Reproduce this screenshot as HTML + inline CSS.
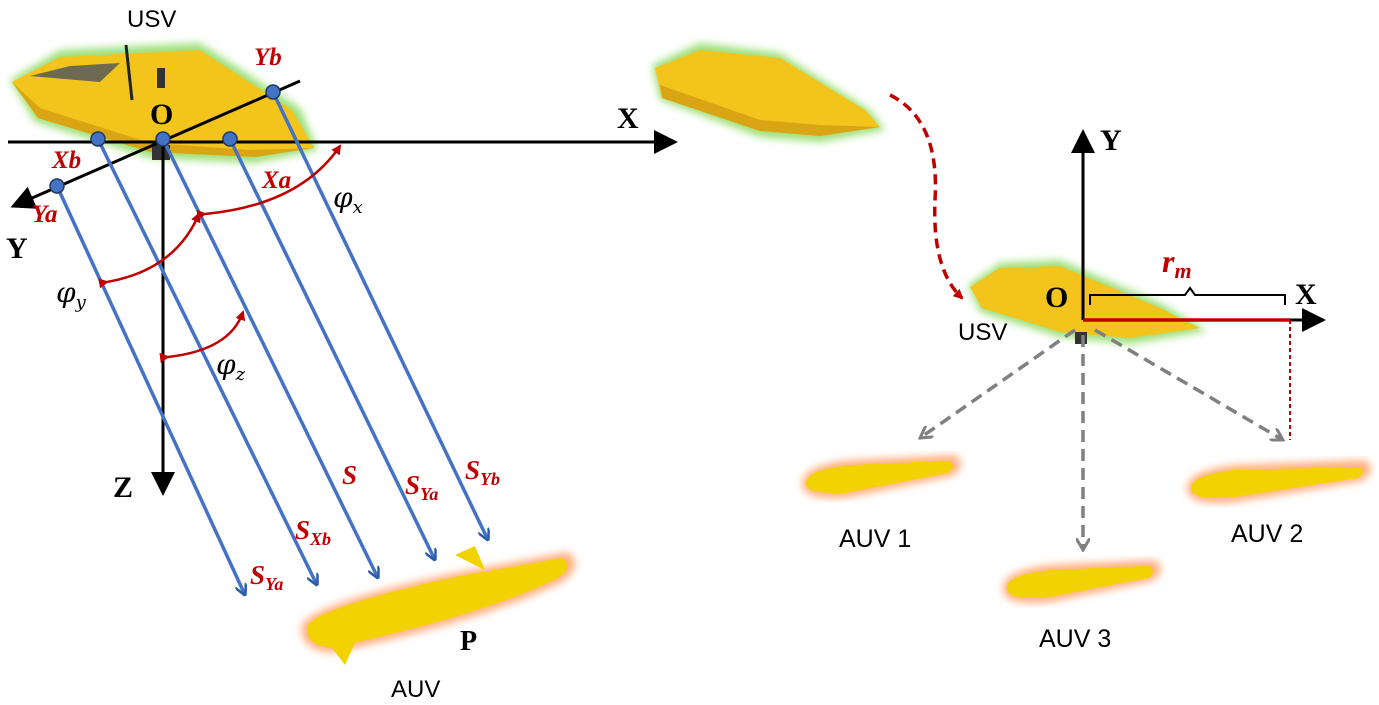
<!DOCTYPE html>
<html><head><meta charset="utf-8"><style>
body{margin:0;background:#fff}
svg{display:block}
.lbl{font-family:"Liberation Serif",serif;font-weight:bold;font-style:italic;fill:#c00000}
.ax{font-family:"Liberation Serif",serif;font-weight:bold;fill:#000}
.sans{font-family:"Liberation Sans",sans-serif;fill:#000}
</style></head><body>
<svg width="1379" height="705" viewBox="0 0 1379 705">
<defs>
<marker id="ab" markerWidth="8" markerHeight="8" refX="6" refY="4" orient="auto" markerUnits="strokeWidth"><path d="M0,0 L8,4 L0,8 Z" fill="#000"/></marker>
<marker id="abl" markerWidth="12" markerHeight="12" refX="11" refY="6" orient="auto" markerUnits="userSpaceOnUse"><path d="M0,0 L12,6 L0,12" fill="none" stroke="#2a5caa" stroke-width="2.5"/></marker>
<marker id="ar" markerWidth="10" markerHeight="10" refX="8" refY="5" orient="auto" markerUnits="userSpaceOnUse"><path d="M0,0 L10,5 L0,10 Z" fill="#c00000"/></marker>
<marker id="ag" markerWidth="14" markerHeight="14" refX="12" refY="7" orient="auto" markerUnits="userSpaceOnUse"><path d="M0,0 L12,7 L0,14" fill="none" stroke="#808080" stroke-width="3"/></marker>
<filter id="gg"><feGaussianBlur stdDeviation="4"/></filter>
</defs>

<!-- left USV -->
<g>
<path d="M10,80 L60,50 L200,43 L300,108 L318,150 L255,163 L150,158 L35,122 Z" fill="#9fe07a" filter="url(#gg)"/>
<path d="M12,82 L60,57 L200,50 L292,110 L314,148 L255,157 L150,152 L38,118 Z" fill="#f2c41c"/>
<path d="M12,82 L38,118 L150,152 L255,157 L314,148 L250,150 L150,143 L40,108 Z" fill="#d9a514"/>
<path d="M30,76 L70,66 L120,63 L100,82 Z" fill="#6d6a50"/>
<line x1="126" y1="45" x2="132" y2="100" stroke="#222" stroke-width="3"/>
<rect x="157" y="68" width="8" height="20" fill="#333"/>
<rect x="152" y="145" width="18" height="15" fill="#333"/>
</g>
<text x="127" y="27" class="sans" font-size="24">USV</text>

<!-- axes -->
<line x1="8" y1="142" x2="672" y2="142" stroke="#000" stroke-width="3" marker-end="url(#ab)"/>
<line x1="163" y1="142" x2="163" y2="490" stroke="#000" stroke-width="3" marker-end="url(#ab)"/>
<line x1="300" y1="81" x2="16" y2="205" stroke="#000" stroke-width="3" marker-end="url(#ab)"/>
<text x="617" y="128" class="ax" font-size="30">X</text>
<text x="6" y="258" class="ax" font-size="30">Y</text>
<text x="113" y="497" class="ax" font-size="30">Z</text>
<text x="150" y="124" class="ax" font-size="30">O</text>

<!-- blue rays -->
<g stroke="#4472c4" stroke-width="3.5">
<line x1="57" y1="186" x2="245" y2="595" marker-end="url(#abl)"/>
<line x1="98" y1="139" x2="317" y2="585" marker-end="url(#abl)"/>
<line x1="163" y1="139" x2="378" y2="578" marker-end="url(#abl)"/>
<line x1="230" y1="139" x2="435" y2="560" marker-end="url(#abl)"/>
<line x1="273" y1="92" x2="488" y2="540" marker-end="url(#abl)"/>
</g>
<g fill="#4472c4" stroke="#1f3864" stroke-width="1.5">
<circle cx="57" cy="186" r="7"/><circle cx="98" cy="139" r="7"/><circle cx="163" cy="139" r="7"/><circle cx="230" cy="139" r="7"/><circle cx="273" cy="92" r="7"/>
</g>
<text x="254" y="65" class="lbl" font-size="25">Yb</text>
<text x="52" y="168" class="lbl" font-size="25">Xb</text>
<text x="262" y="188" class="lbl" font-size="25">Xa</text>
<text x="32" y="222" class="lbl" font-size="25">Ya</text>

<!-- angle arcs -->
<g fill="none" stroke="#c00000" stroke-width="2.5">
<path d="M205,214 Q300,205 340,146" marker-start="url(#ar)" marker-end="url(#ar)"/>
<path d="M107,282 Q175,270 199,214" marker-start="url(#ar)" marker-end="url(#ar)"/>
<path d="M168,357 Q230,350 243,312" marker-start="url(#ar)" marker-end="url(#ar)"/>
</g>
<text x="333" y="207" font-family="DejaVu Serif,serif" font-style="italic" font-size="28">φ<tspan font-size="18" dy="6">x</tspan></text>
<text x="56" y="302" font-family="DejaVu Serif,serif" font-style="italic" font-size="28">φ<tspan font-size="18" dy="6">y</tspan></text>
<text x="216" y="374" font-family="DejaVu Serif,serif" font-style="italic" font-size="28">φ<tspan font-size="18" dy="6">z</tspan></text>

<text x="250" y="584" class="lbl" font-size="27">S<tspan font-size="18" dy="6">Ya</tspan></text>
<text x="295" y="539" class="lbl" font-size="27">S<tspan font-size="18" dy="6">Xb</tspan></text>
<text x="342" y="484" class="lbl" font-size="27">S</text>
<text x="405" y="494" class="lbl" font-size="27">S<tspan font-size="18" dy="6">Ya</tspan></text>
<text x="465" y="479" class="lbl" font-size="27">S<tspan font-size="18" dy="6">Yb</tspan></text>

<!-- AUV left -->
<g>
<path d="M302,625 Q315,602 460,572 L568,552 Q585,565 562,582 Q480,622 330,653 Q298,648 302,625 Z" fill="#ffb080" filter="url(#gg)"/>
<path d="M308,625 Q322,606 460,576 L562,558 Q575,568 556,579 Q480,616 330,648 Q303,644 308,625 Z" fill="#f2d200"/>
<path d="M455,555 L475,546 L485,570 Z" fill="#f2d200"/>
<path d="M330,645 L345,665 L355,643 Z" fill="#f2d200"/>
</g>
<text x="460" y="650" class="ax" font-size="28">P</text>
<text x="391" y="697" class="sans" font-size="24">AUV</text>

<!-- right USV (top) -->
<g>
<path d="M652,65 L700,43 L780,53 L870,110 L885,130 L820,142 L760,137 L660,100 Z" fill="#9fe07a" filter="url(#gg)"/>
<path d="M655,68 L700,50 L780,58 L865,110 L880,127 L820,136 L760,131 L662,98 Z" fill="#f2c41c"/>
<path d="M662,98 L760,131 L820,136 L880,127 L820,125 L760,120 L660,85 Z" fill="#d9a514"/>
</g>
<path d="M890,95 Q940,120 935,200 Q932,270 962,298" fill="none" stroke="#c00000" stroke-width="3.5" stroke-dasharray="10,6" marker-end="url(#ar)"/>

<!-- right USV -->
<g>
<path d="M968,285 L1000,263 L1060,260 L1160,303 L1207,331 L1130,344 L1060,337 L980,312 Z" fill="#9fe07a" filter="url(#gg)"/>
<path d="M970,287 L1000,268 L1060,266 L1160,308 L1200,328 L1130,338 L1060,332 L982,308 Z" fill="#f2c41c"/>
<rect x="1075" y="332" width="12" height="12" fill="#333"/>
</g>
<line x1="1083" y1="320" x2="1083" y2="135" stroke="#000" stroke-width="3" marker-end="url(#ab)"/>
<line x1="1083" y1="320" x2="1320" y2="320" stroke="#000" stroke-width="3" marker-end="url(#ab)"/>
<line x1="1083" y1="320" x2="1290" y2="320" stroke="#c00000" stroke-width="3.5"/>
<line x1="1290" y1="320" x2="1290" y2="440" stroke="#c00000" stroke-width="2" stroke-dasharray="4,3"/>
<path d="M1090,305 L1090,295 L1185,295 L1190,288 L1195,295 L1285,295 L1285,305" fill="none" stroke="#000" stroke-width="2"/>
<text x="1162" y="272" class="lbl" font-size="32">r<tspan font-size="22" dy="6">m</tspan></text>
<text x="1100" y="150" class="ax" font-size="30">Y</text>
<text x="1295" y="304" class="ax" font-size="30">X</text>
<text x="1045" y="307" class="ax" font-size="30">O</text>
<text x="958" y="340" class="sans" font-size="24">USV</text>

<g stroke="#808080" stroke-width="3.5" stroke-dasharray="12,7" fill="none">
<line x1="1075" y1="330" x2="920" y2="438" marker-end="url(#ag)"/>
<line x1="1083" y1="335" x2="1083" y2="550" marker-end="url(#ag)"/>
<line x1="1095" y1="330" x2="1283" y2="440" marker-end="url(#ag)"/>
</g>

<g>
<g><path d="M802,485 Q800,466 850,460 L955,455 Q968,465 952,476 L850,497 Q805,502 802,485 Z" fill="#ffb080" filter="url(#gg)"/>
<path d="M806,484 Q805,470 850,465 L948,461 Q958,466 948,473 L850,492 Q808,496 806,484 Z" fill="#f2d200"/></g>
<g><path d="M1003,590 Q1000,571 1050,565 L1155,560 Q1168,570 1152,581 L1050,602 Q1005,607 1003,590 Z" fill="#ffb080" filter="url(#gg)"/>
<path d="M1007,589 Q1005,575 1050,570 L1148,566 Q1158,571 1148,578 L1050,597 Q1008,601 1007,589 Z" fill="#f2d200"/></g>
<g><path d="M1187,490 Q1185,471 1235,465 L1365,460 Q1378,470 1362,481 L1235,502 Q1190,507 1187,490 Z" fill="#ffb080" filter="url(#gg)"/>
<path d="M1191,489 Q1190,475 1235,470 L1358,467 Q1368,471 1358,478 L1235,497 Q1193,501 1191,489 Z" fill="#f2d200"/></g>
</g>
<text x="839" y="547" class="sans" font-size="25">AUV 1</text>
<text x="1231" y="542" class="sans" font-size="25">AUV 2</text>
<text x="1039" y="647" class="sans" font-size="25">AUV 3</text>
</svg>
</body></html>
